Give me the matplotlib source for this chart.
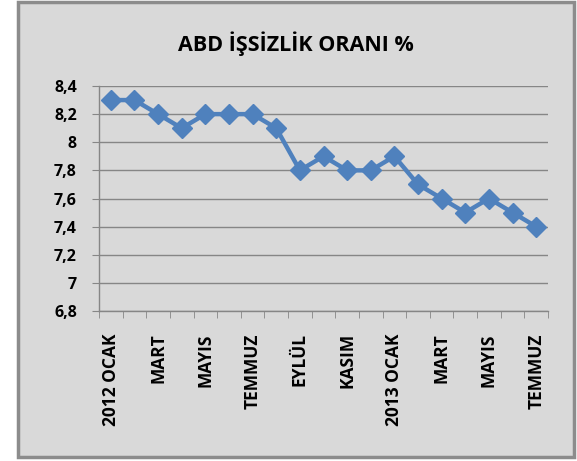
import matplotlib.pyplot as plt
from matplotlib.patches import Rectangle
from matplotlib.ticker import FuncFormatter, MultipleLocator, FixedLocator

# Monthly US unemployment rate, Jan 2012 - Jul 2013
months = ["2012 OCAK", "ŞUBAT", "MART", "NİSAN", "MAYIS", "HAZİRAN",
          "TEMMUZ", "AĞUSTOS", "EYLÜL", "EKİM", "KASIM", "ARALIK",
          "2013 OCAK", "ŞUBAT", "MART", "NİSAN", "MAYIS", "HAZİRAN",
          "TEMMUZ"]
rates = [8.3, 8.3, 8.2, 8.1, 8.2, 8.2, 8.2, 8.1, 7.8, 7.9, 7.8, 7.8,
         7.9, 7.7, 7.6, 7.5, 7.6, 7.5, 7.4]

TITLE = "ABD İŞSİZLİK ORANI %"
LINE_COLOR = "#4F81BD"
BG = "#D9D9D9"
GRID = "#868686"

plt.rcParams["font.family"] = ["Open Sans", "DejaVu Sans"]

fig = plt.figure(figsize=(5.77, 4.61), dpi=100)
fig.patch.set_facecolor("white")

# gray chart area with border
fig.add_artist(Rectangle((18 / 577, 4 / 461), 556 / 577, 455 / 461,
                         transform=fig.transFigure, facecolor=BG,
                         edgecolor="#8C8C8C", linewidth=2.5, zorder=-10))

ax = fig.add_axes([99 / 577, 1 - 311 / 461, 449 / 577, 225 / 461])
ax.set_facecolor(BG)

x = list(range(len(rates)))
ax.plot(x, rates, color=LINE_COLOR, linewidth=3.2, marker="D",
        markersize=10, markeredgecolor=LINE_COLOR, zorder=3, clip_on=False)

ax.set_xlim(-0.5, len(rates) - 0.5)
ax.set_ylim(6.8, 8.4)
ax.yaxis.set_major_locator(MultipleLocator(0.2))
ax.yaxis.set_major_formatter(
    FuncFormatter(lambda v, p: f"{v:.1f}".replace(".", ",").replace(",0", "")))

# labels every other month, tick marks at category boundaries
ax.set_xticks(x[::2])
ax.set_xticklabels(months[::2], rotation=90, fontsize=12.5, fontweight="bold")
ax.tick_params(axis="x", length=0, pad=16)
ax.xaxis.set_minor_locator(FixedLocator([i - 0.5 for i in range(len(rates) + 1)]))
ax.tick_params(axis="x", which="minor", length=5, color=GRID, direction="out")

for lbl in ax.get_yticklabels():
    lbl.set_fontweight("bold")
ax.tick_params(axis="y", labelsize=11.5, length=5, color=GRID, pad=11)

ax.grid(axis="y", color=GRID, linewidth=1)
ax.set_axisbelow(True)
for side in ["top", "right"]:
    ax.spines[side].set_visible(False)
for side in ["left", "bottom"]:
    ax.spines[side].set_color(GRID)
    ax.spines[side].set_linewidth(1)

fig.text(296 / 577, 1 - 44 / 461, TITLE, ha="center", va="center",
         fontsize=15.5, fontweight="bold")

fig.savefig("out.png", dpi=100)
